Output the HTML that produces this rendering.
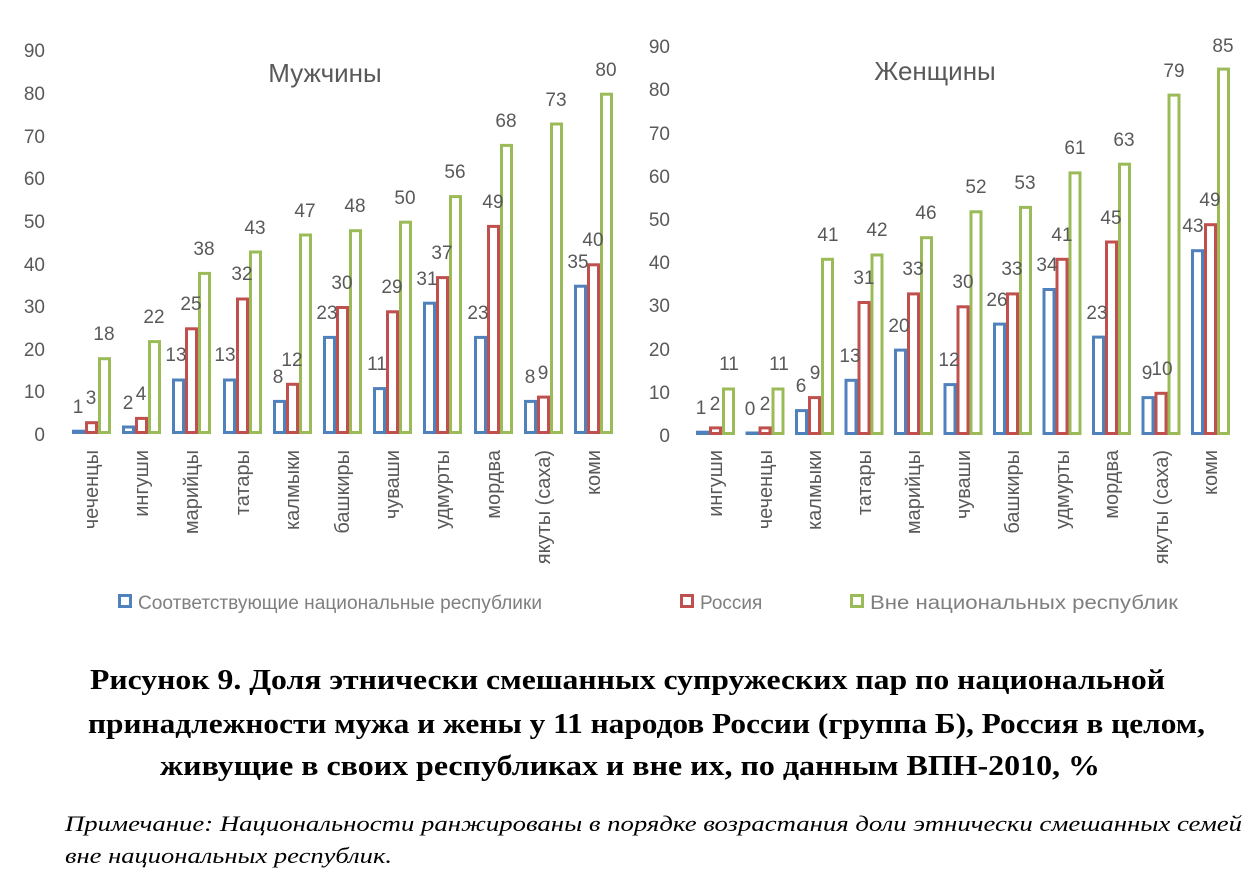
<!DOCTYPE html>
<html><head><meta charset="utf-8"><style>body{margin:0;background:#fff}svg{display:block}</style></head><body>
<svg width="1254" height="876" viewBox="0 0 1254 876" xmlns="http://www.w3.org/2000/svg">
<rect width="1254" height="876" fill="#fff"/>
<g font-family="Liberation Sans, sans-serif" font-size="19" fill="#595959">
<g text-anchor="end">
<text x="45" y="441">0</text><text x="45" y="398">10</text><text x="45" y="356">20</text><text x="45" y="313">30</text><text x="45" y="271">40</text><text x="45" y="228">50</text><text x="45" y="185">60</text><text x="45" y="143">70</text><text x="45" y="100">80</text><text x="45" y="57">90</text>
</g>
<g text-anchor="end">
<text x="670" y="442">0</text><text x="670" y="399">10</text><text x="670" y="356">20</text><text x="670" y="312">30</text><text x="670" y="269">40</text><text x="670" y="226">50</text><text x="670" y="183">60</text><text x="670" y="140">70</text><text x="670" y="96">80</text><text x="670" y="53">90</text>
</g>
<text x="325" y="82" font-size="26" text-anchor="middle">Мужчины</text>
<text x="935" y="80" font-size="26" text-anchor="middle">Женщины</text>
</g>

<g fill="#fff" stroke-width="3">
<g stroke="#4f81bd">
<rect x="73.5" y="431.2" width="10" height="1.3" />
<rect x="123.5" y="427" width="10" height="5.5"/>
<rect x="173.5" y="380" width="10" height="52.5"/>
<rect x="224.5" y="380" width="10" height="52.5"/>
<rect x="274.5" y="401.4" width="10" height="31.1"/>
<rect x="324.5" y="337.4" width="10" height="95.1"/>
<rect x="374.5" y="388.6" width="10" height="43.9"/>
<rect x="424.5" y="303.2" width="10" height="129.3"/>
<rect x="475.5" y="337.4" width="10" height="95.1"/>
<rect x="525.5" y="401.4" width="10" height="31.1"/>
<rect x="575.5" y="286.2" width="10" height="146.3"/>
</g>
<g stroke="#c0504d">
<rect x="86.5" y="422.7" width="10" height="9.8"/>
<rect x="136.5" y="418.4" width="10" height="14.1"/>
<rect x="186.5" y="328.8" width="10" height="103.7"/>
<rect x="237.5" y="299" width="10" height="133.5"/>
<rect x="287.5" y="384.3" width="10" height="48.2"/>
<rect x="337.5" y="307.5" width="10" height="125"/>
<rect x="387.5" y="311.8" width="10" height="120.7"/>
<rect x="437.5" y="277.6" width="10" height="154.9"/>
<rect x="488.5" y="226.4" width="10" height="206.1"/>
<rect x="538.5" y="397.1" width="10" height="35.4"/>
<rect x="588.5" y="264.8" width="10" height="167.7"/>
</g>
<g stroke="#9bbb59">
<rect x="99.5" y="358.7" width="10" height="73.8"/>
<rect x="149.5" y="341.6" width="10" height="90.9"/>
<rect x="199.5" y="273.4" width="10" height="159.1"/>
<rect x="250.5" y="252" width="10" height="180.5"/>
<rect x="300.5" y="235" width="10" height="197.5"/>
<rect x="350.5" y="230.7" width="10" height="201.8"/>
<rect x="400.5" y="222.2" width="10" height="210.3"/>
<rect x="450.5" y="196.6" width="10" height="235.9"/>
<rect x="501.5" y="145.4" width="10" height="287.1"/>
<rect x="551.5" y="124" width="10" height="308.5"/>
<rect x="601.5" y="94.2" width="10" height="338.3"/>
</g>
<g stroke="#4f81bd">
<rect x="697.5" y="432.2" width="10" height="1.3"/>
<rect x="747" y="433" width="10" height="0.5"/>
<rect x="796.5" y="410.6" width="10" height="22.9"/>
<rect x="846" y="380.3" width="10" height="53.2"/>
<rect x="895.5" y="350.1" width="10" height="83.4"/>
<rect x="945" y="384.6" width="10" height="48.9"/>
<rect x="994.5" y="324.1" width="10" height="109.4"/>
<rect x="1044" y="289.5" width="10" height="144"/>
<rect x="1093.5" y="337.1" width="10" height="96.4"/>
<rect x="1143" y="397.6" width="10" height="35.9"/>
<rect x="1192.5" y="250.7" width="10" height="182.8"/>
</g>
<g stroke="#c0504d">
<rect x="710.5" y="427.9" width="10" height="5.6"/>
<rect x="760" y="427.9" width="10" height="5.6"/>
<rect x="809.5" y="397.6" width="10" height="35.9"/>
<rect x="859" y="302.5" width="10" height="131"/>
<rect x="908.5" y="293.9" width="10" height="139.6"/>
<rect x="958" y="306.8" width="10" height="126.7"/>
<rect x="1007.5" y="293.9" width="10" height="139.6"/>
<rect x="1057" y="259.3" width="10" height="174.2"/>
<rect x="1106.5" y="242" width="10" height="191.5"/>
<rect x="1156" y="393.3" width="10" height="40.2"/>
<rect x="1205.5" y="224.7" width="10" height="208.8"/>
</g>
<g stroke="#9bbb59">
<rect x="723.5" y="389" width="10" height="44.5"/>
<rect x="773" y="389" width="10" height="44.5"/>
<rect x="822.5" y="259.3" width="10" height="174.2"/>
<rect x="872" y="255" width="10" height="178.5"/>
<rect x="921.5" y="237.7" width="10" height="195.8"/>
<rect x="971" y="211.8" width="10" height="221.7"/>
<rect x="1020.5" y="207.4" width="10" height="226.1"/>
<rect x="1070" y="172.9" width="10" height="260.6"/>
<rect x="1119.5" y="164.2" width="10" height="269.3"/>
<rect x="1169" y="95.1" width="10" height="338.4"/>
<rect x="1218.5" y="69.1" width="10" height="364.4"/>
</g>
</g>

<g font-family="Liberation Sans, sans-serif" font-size="19" fill="#595959" text-anchor="middle">
<text x="78" y="413">1</text><text x="91" y="404">3</text><text x="104" y="340">18</text>
<text x="128" y="409">2</text><text x="141" y="400">4</text><text x="154" y="323">22</text>
<text x="176" y="361">13</text><text x="191" y="310">25</text><text x="204" y="255">38</text>
<text x="225" y="361">13</text><text x="242" y="280">32</text><text x="255" y="234">43</text>
<text x="278" y="383">8</text><text x="292" y="366">12</text><text x="305" y="217">47</text>
<text x="327" y="319">23</text><text x="342" y="289">30</text><text x="355" y="212">48</text>
<text x="377" y="370">11</text><text x="392" y="293">29</text><text x="405" y="204">50</text>
<text x="427" y="285">31</text><text x="442" y="259">37</text><text x="455" y="178">56</text>
<text x="478" y="319">23</text><text x="493" y="208">49</text><text x="506" y="127">68</text>
<text x="530" y="383">8</text><text x="543" y="379">9</text><text x="556" y="106">73</text>
<text x="578" y="268">35</text><text x="593" y="246">40</text><text x="606" y="76">80</text>
<text x="701" y="414">1</text><text x="715" y="410">2</text><text x="729" y="370">11</text>
<text x="750" y="415">0</text><text x="765" y="410">2</text><text x="779" y="370">11</text>
<text x="801" y="392">6</text><text x="815" y="379">9</text><text x="828" y="241">41</text>
<text x="850" y="362">13</text><text x="864" y="284">31</text><text x="877" y="236">42</text>
<text x="899" y="332">20</text><text x="913" y="275">33</text><text x="926" y="219">46</text>
<text x="949" y="366">12</text><text x="963" y="288">30</text><text x="976" y="193">52</text>
<text x="997" y="306">26</text><text x="1012" y="275">33</text><text x="1025" y="189">53</text>
<text x="1047" y="271">34</text><text x="1062" y="241">41</text><text x="1075" y="154">61</text>
<text x="1097" y="319">23</text><text x="1111" y="224">45</text><text x="1124" y="146">63</text>
<text x="1147" y="379">9</text><text x="1162" y="375">10</text><text x="1174" y="77">79</text>
<text x="1193" y="232">43</text><text x="1210" y="206">49</text><text x="1223" y="52">85</text>
</g>

<g font-family="Liberation Sans, sans-serif" font-size="20" fill="#595959" text-anchor="end">
<text transform="translate(98,450) rotate(-90)">чеченцы</text>
<text transform="translate(148,450) rotate(-90)">ингуши</text>
<text transform="translate(198,450) rotate(-90)">марийцы</text>
<text transform="translate(249,450) rotate(-90)">татары</text>
<text transform="translate(299,450) rotate(-90)">калмыки</text>
<text transform="translate(349,450) rotate(-90)">башкиры</text>
<text transform="translate(399,450) rotate(-90)">чуваши</text>
<text transform="translate(449,450) rotate(-90)">удмурты</text>
<text transform="translate(500,450) rotate(-90)">мордва</text>
<text transform="translate(550,450) rotate(-90)">якуты (саха)</text>
<text transform="translate(600,450) rotate(-90)">коми</text>
<text transform="translate(722,450) rotate(-90)">ингуши</text>
<text transform="translate(772,450) rotate(-90)">чеченцы</text>
<text transform="translate(821,450) rotate(-90)">калмыки</text>
<text transform="translate(871,450) rotate(-90)">татары</text>
<text transform="translate(920,450) rotate(-90)">марийцы</text>
<text transform="translate(970,450) rotate(-90)">чуваши</text>
<text transform="translate(1019,450) rotate(-90)">башкиры</text>
<text transform="translate(1069,450) rotate(-90)">удмурты</text>
<text transform="translate(1118,450) rotate(-90)">мордва</text>
<text transform="translate(1168,450) rotate(-90)">якуты (саха)</text>
<text transform="translate(1217,450) rotate(-90)">коми</text>
</g>

<rect x="119.5" y="595.5" width="11" height="11" fill="#fff" stroke="#4f81bd" stroke-width="3"/>
<rect x="681.5" y="595.5" width="11" height="11" fill="#fff" stroke="#c0504d" stroke-width="3"/>
<rect x="851.5" y="595.5" width="11" height="11" fill="#fff" stroke="#9bbb59" stroke-width="3"/>
<g font-family="Liberation Sans, sans-serif" font-size="19" fill="#7f7f7f">
<text x="138" y="609" textLength="404" lengthAdjust="spacingAndGlyphs">Соответствующие национальные республики</text>
<text x="700" y="609">Россия</text>
<text x="870" y="609" textLength="308" lengthAdjust="spacingAndGlyphs">Вне национальных республик</text>
</g>

<g font-family="Liberation Serif, serif" font-weight="bold" font-size="28" fill="#000">
<text x="90" y="689" textLength="1075" lengthAdjust="spacingAndGlyphs">Рисунок 9. Доля этнически смешанных супружеских пар по национальной</text>
<text x="88" y="733" textLength="1117" lengthAdjust="spacingAndGlyphs">принадлежности мужа и жены у 11 народов России (группа Б), Россия в целом,</text>
<text x="160" y="775" textLength="940" lengthAdjust="spacingAndGlyphs">живущие в своих республиках и вне их, по данным ВПН-2010, %</text>
</g>
<g font-family="Liberation Serif, serif" font-style="italic" font-size="22" fill="#000">
<text x="65" y="831" textLength="1177" lengthAdjust="spacingAndGlyphs">Примечание: Национальности ранжированы в порядке возрастания доли этнически смешанных семей</text>
<text x="65" y="863" textLength="327" lengthAdjust="spacingAndGlyphs">вне национальных республик.</text>
</g>
</svg>
</body></html>
